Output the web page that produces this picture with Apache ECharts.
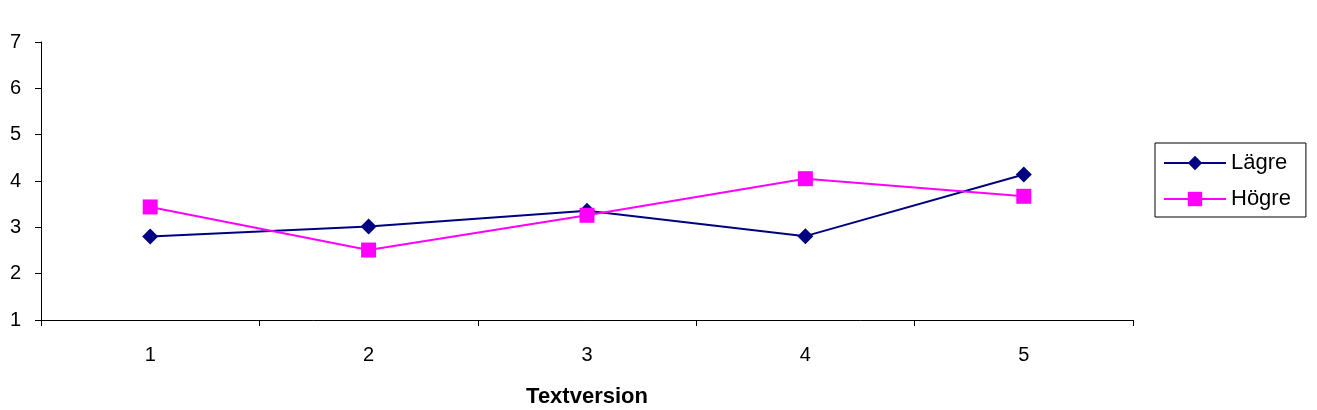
<!DOCTYPE html>
<html><head><meta charset="utf-8">
<script src="https://cdn.jsdelivr.net/npm/echarts@6/dist/echarts.min.js"></script>
<style>html,body{margin:0;padding:0;background:#fff}#c{width:1317px;height:410px}</style>
</head><body><div id="c"></div>
<script>
const categories = ['1', '2', '3', '4', '5'];
const lagre = [2.80, 3.02, 3.36, 2.81, 4.14];
const hogre = [3.44, 2.51, 3.26, 4.05, 3.67];
const seriesNames = ['Lägre', 'Högre'];
const yTicks = [1, 7, 1];

const chart = echarts.init(document.getElementById('c'), null, {renderer: 'canvas'});
const font = 'Liberation Sans, Arial, sans-serif';
chart.setOption({
  animation: false,
  backgroundColor: '#ffffff',
  grid: {left: 41, right: 184, top: 42, bottom: 90, containLabel: false, outerBoundsMode: 'none'},
  legend: {
    left: 1155, top: 143, orient: 'vertical',
    itemWidth: 62, itemHeight: 18, itemGap: 14,
    padding: [9, 15, 7, 8],
    borderColor: '#000', borderWidth: 1,
    textStyle: {fontFamily: font, fontSize: 22, color: '#000'},
    data: seriesNames
  },
  xAxis: {
    type: 'category', data: categories, boundaryGap: true,
    name: 'Textversion', nameLocation: 'middle', nameGap: 66,
    nameTextStyle: {fontFamily: font, fontSize: 22, fontWeight: 'bold', color: '#000'},
    axisLine: {lineStyle: {color: '#000', width: 1}},
    axisTick: {show: true, length: 6, alignWithLabel: false, lineStyle: {color: '#000'}},
    axisLabel: {fontFamily: font, fontSize: 20, color: '#000', margin: 25}
  },
  yAxis: {
    type: 'value', min: yTicks[0], max: yTicks[1], interval: yTicks[2],
    axisLine: {show: true, lineStyle: {color: '#000', width: 1}},
    axisTick: {show: true, length: 6, lineStyle: {color: '#000'}},
    axisLabel: {fontFamily: font, fontSize: 20, color: '#000', margin: 20},
    splitLine: {show: false}
  },
  series: [
    {name: seriesNames[0], type: 'line', data: lagre, symbol: 'diamond', symbolSize: 16,
     lineStyle: {color: '#000080', width: 2}, itemStyle: {color: '#000080'}},
    {name: seriesNames[1], type: 'line', data: hogre, symbol: 'rect', symbolSize: 15,
     lineStyle: {color: '#ff00ff', width: 2}, itemStyle: {color: '#ff00ff'}}
  ]
});
</script></body></html>
